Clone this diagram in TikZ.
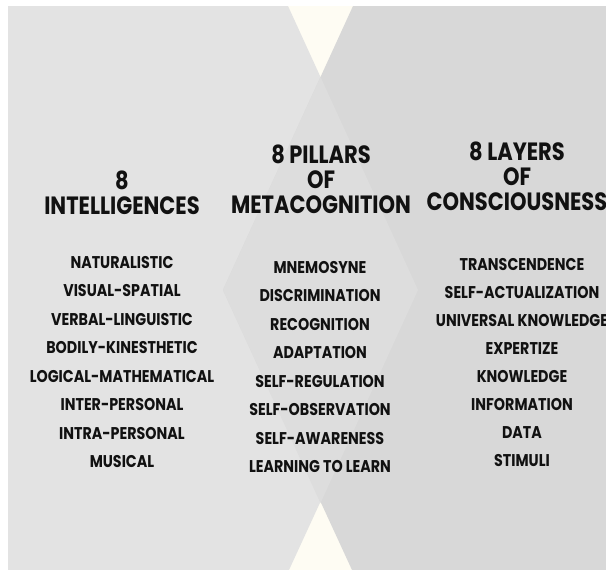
\documentclass[tikz,border=0pt]{standalone}
\usepackage{fontspec}
\setmainfont[FakeStretch=0.84]{Poppins}
\usetikzlibrary{matrix}
\definecolor{cream}{HTML}{FEFCF3}
\definecolor{leftgrey}{HTML}{E3E3E3}
\definecolor{rightgrey}{HTML}{D8D8D8}
\definecolor{midgrey}{HTML}{DDDDDD}
\definecolor{ink}{HTML}{111111}

\begin{document}
\begin{tikzpicture}[
  x=1pt,
  y=-1pt,
  heading/.style={
    color=ink,
    font=\fontsize{25}{25}\selectfont\bfseries,
    align=center,
    inner sep=0pt,
    anchor=south
  },
  item/.style={
    color=ink,
    font=\fontsize{17}{17}\selectfont\bfseries,
    inner sep=0pt,
    minimum height=28.5pt,
    text height=12pt,
    text depth=0pt
  },
  column/.style={
    matrix of nodes,
    nodes={item},
    row sep=0pt
  }
]
\useasboundingbox (0,0) rectangle (611,570);
\fill[white] (0,0) rectangle (611,570);
\fill[cream] (8,6) rectangle (606,570);

% the two big panels and their overlap
\fill[leftgrey] (8,6) -- (288,6) -- (418,290) -- (289,570) -- (8,570) -- cycle;
\fill[rightgrey] (606,6) -- (353,6) -- (223,290) -- (352,570) -- (606,570) -- cycle;
\fill[midgrey] (320.5,77) -- (418,290) -- (320.5,503) -- (223,290) -- cycle;

\node(intelhead)[heading] at (122,215) {8\\INTELLIGENCES};
\node(pillarhead)[heading] at (321,214) {8 PILLARS\\OF\\METACOGNITION};
\node(layerhead)[heading] at (517,211) {8 LAYERS\\OF\\CONSCIOUSNESS};

\matrix[column] (intel) at (122,362) {
  NATURALISTIC \\
  VISUAL-SPATIAL \\
  VERBAL-LINGUISTIC \\
  BODILY-KINESTHETIC \\
  LOGICAL-MATHEMATICAL \\
  INTER-PERSONAL \\
  INTRA-PERSONAL \\
  MUSICAL \\
};

\matrix[column] (pillars) at (320,367) {
  MNEMOSYNE \\
  DISCRIMINATION \\
  RECOGNITION \\
  ADAPTATION \\
  SELF-REGULATION \\
  SELF-OBSERVATION \\
  SELF-AWARENESS \\
  LEARNING TO LEARN \\
};

\matrix[column, nodes={minimum height=28pt}] (layers) at (522,362) {
  TRANSCENDENCE \\
  SELF-ACTUALIZATION \\
  UNIVERSAL KNOWLEDGE \\
  EXPERTIZE \\
  KNOWLEDGE \\
  INFORMATION \\
  DATA \\
  STIMULI \\
};

% white strip on the right edge
\fill[white] (606,0) rectangle (611,570);

\end{tikzpicture}
\end{document}
